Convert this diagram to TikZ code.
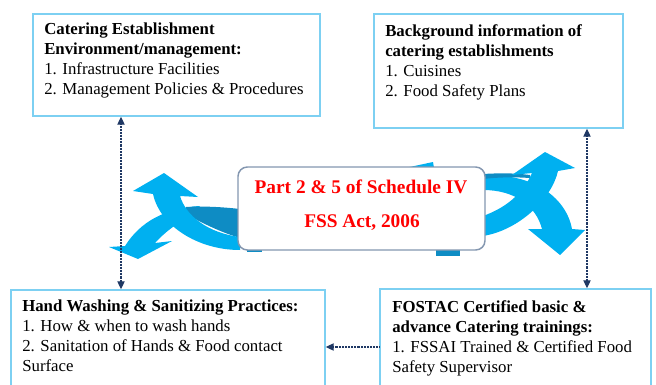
\documentclass[tikz,border=0pt]{standalone}
\usepackage{fontspec}
\setmainfont{Liberation Serif}
\usetikzlibrary{arrows.meta,fit,calc}

\definecolor{panelblue}{RGB}{125,208,242}
\definecolor{ribbonlight}{RGB}{0,176,240}
\definecolor{ribbondark}{RGB}{14,140,196}
\definecolor{hubborder}{RGB}{132,151,176}
\definecolor{navy}{RGB}{31,56,100}

\tikzset{
  panel/.style={draw=panelblue, line width=1.1pt, inner sep=0pt},
  paneltext/.style={anchor=north west, inner sep=0pt, align=left,
    font=\fontsize{12.6}{15}\selectfont, text=black},
  hub/.style={draw=hubborder, line width=1.1pt, fill=white, rounded corners=7pt, inner sep=0pt},
  hubtext/.style={inner sep=0pt, font=\fontsize{14.5}{20}\selectfont\bfseries, text=red},
  conn/.style={draw=navy, line width=0.8pt, dash pattern=on 0.55pt off 0.55pt},
  navytip/.style={-{Triangle[width=5.5pt,length=6pt]}},
  navytips/.style={{Triangle[width=5.5pt,length=6pt]}-{Triangle[width=5.5pt,length=6pt]}},
}

\begin{document}
\begin{tikzpicture}[x=0.75pt,y=-0.75pt]
\useasboundingbox (0,0) rectangle (656,385);

% ---- ribbon arrows, left side ----
% strand falling to the lower arrowhead
\fill[ribbonlight] (200,206) .. controls (165,208) and (140,222) .. (125,246)
  -- (109,247) -- (138,259) -- (172,241) -- (155,243)
  .. controls (165,232) and (178,222) .. (192,216) -- cycle;
% its underside running into the hub
\fill[ribbondark] (186,207) .. controls (205,206) and (222,207) .. (240,209)
  -- (240,238) .. controls (220,232) and (200,222) .. (186,214) -- cycle;
% strand rising to the upper arrowhead
\fill[ribbonlight] (240,237) .. controls (208,233) and (186,216) .. (180,196)
  -- (198,197) -- (164,173) -- (133,191) -- (153,194)
  .. controls (160,226) and (198,250) .. (240,250) -- cycle;

% ---- ribbon arrows, right side ----
% strand from the hub top, falling to the lower arrowhead
\fill[ribbonlight] (483,176) .. controls (530,172) and (566,196) .. (572,229)
  -- (585,230) -- (560,255) -- (528,229) -- (542,229)
  .. controls (536,206) and (515,190) .. (483,190) -- cycle;
% thin darker edge of that strand near the hub
\fill[ribbondark] (483,174) .. controls (500,173) and (515,173) .. (530,175)
  -- (530,178) .. controls (515,177) and (500,177) .. (483,179) -- cycle;
% strand from the hub side, rising to the upper arrowhead
\fill[ribbonlight] (483,216) .. controls (505,208) and (522,195) .. (532,173)
  -- (512,175) -- (545,152) -- (575,168) -- (558,171)
  .. controls (552,198) and (520,230) .. (483,236) -- cycle;

% ribbon edges peeking out around the hub
\fill[ribbonlight] (405,168) -- (433,162) -- (434,168) -- cycle;
\fill[ribbondark] (436,247) rectangle (460,256);
\fill[ribbondark] (247,246) rectangle (262,252);

% ---- central hub ----
\node[hub, fit={(238,167) (485,250)}] (hub) {};
\node[hubtext, anchor=base] (hubA) at (361,193) {Part 2 \& 5 of Schedule IV};
\node[hubtext, anchor=base] (hubB) at (362,227) {FSS Act, 2006};

% ---- panels ----
\node[panel, fit={(33,14) (320,116)}] (box1) {};
\node[panel, fit={(374,14) (623,128)}] (box2) {};
\node[panel, fit={(11,290) (325,392)}] (box3) {};
\node[panel, fit={(380,289) (651,392)}] (box4) {};

\node[paneltext] (box1text) at (44,23)
  {\textbf{Catering Establishment}\\
   \textbf{Environment/management:}\\
   1. Infrastructure Facilities\\
   2. Management Policies \& Procedures};
\node[paneltext] (box2text) at (385,24)
  {\textbf{Background information of}\\
   \textbf{catering establishments}\\
   1. Cuisines\\
   2. Food Safety Plans};
\node[paneltext] (box3text) at (22,300)
  {\textbf{Hand Washing \& Sanitizing Practices:}\\
   1. How \& when to wash hands\\
   2. Sanitation of Hands \& Food contact\\
   Surface};
\node[paneltext] (box4text) at (392,300)
  {\textbf{FOSTAC Certified basic \&}\\
   \textbf{advance Catering trainings:}\\
   1. FSSAI Trained \& Certified Food\\
   Safety Supervisor};

% ---- dotted connectors ----
\coordinate (lx) at (121,0);
\coordinate (rx) at (587,0);
\coordinate (hy) at (0,347);
\draw[conn, navytips] (lx |- box1.south) -- (lx |- box3.north);
\draw[conn, navytips] (rx |- box2.south) -- (rx |- box4.north);
\draw[conn, navytip] (box4.west |- hy) -- (box3.east |- hy);
\end{tikzpicture}
\end{document}
